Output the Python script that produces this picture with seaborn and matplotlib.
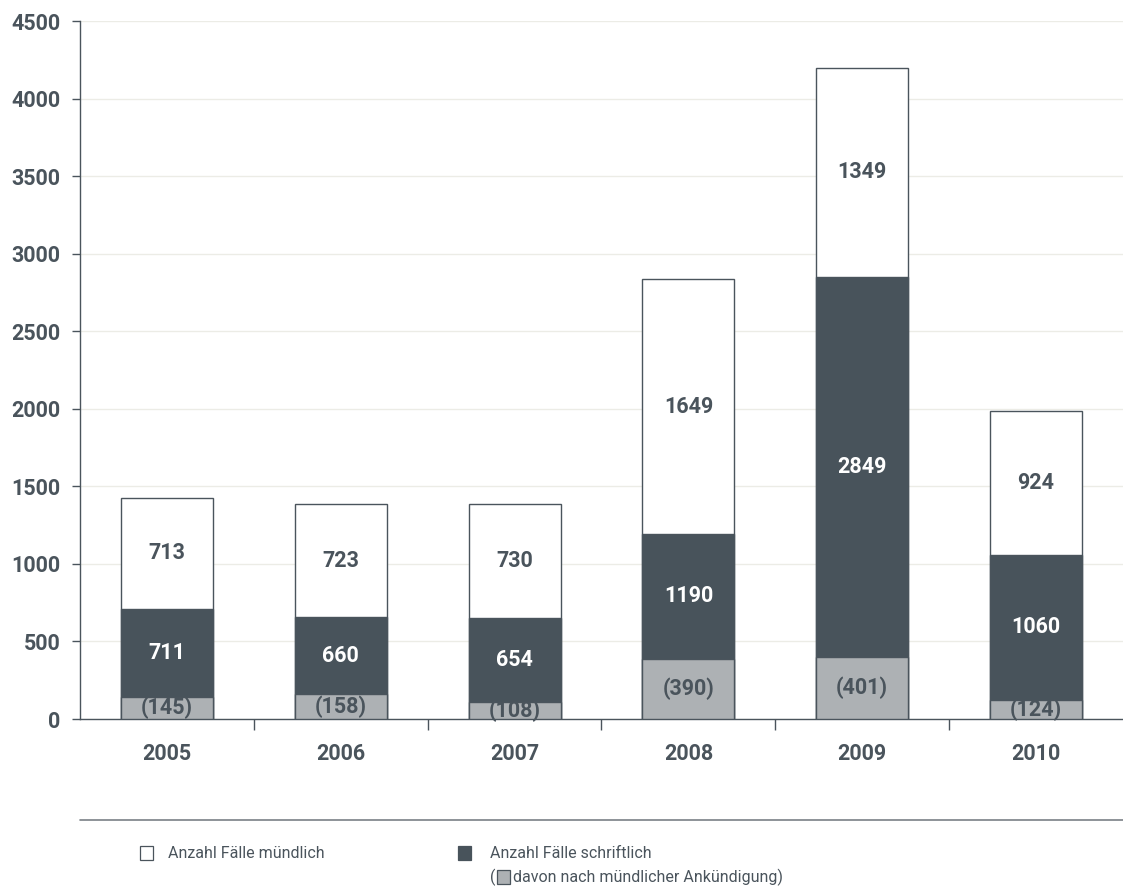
import matplotlib
matplotlib.use("Agg")
import matplotlib.pyplot as plt
import seaborn as sns
import pandas as pd
import numpy as np
from matplotlib.patches import Rectangle

years = ["2005", "2006", "2007", "2008", "2009", "2010"]
muendlich = [713, 723, 730, 1649, 1349, 924]
schriftlich = [711, 660, 654, 1190, 2849, 1060]
davon = [145, 158, 108, 390, 401, 124]
yticks = [0, 500, 1000, 1500, 2000, 2500, 3000, 3500, 4000, 4500]

TXT = "#4a545c"
DARK = "#48535b"
GRAY = "#adb1b4"
GRID = "#ecece6"

sns.set_theme(style="white")
plt.rcParams["font.family"] = ["Roboto", "DejaVu Sans"]

totals = [m + s for m, s in zip(muendlich, schriftlich)]
df = pd.DataFrame({"year": years, "total": totals, "schriftlich": schriftlich, "davon": davon})

fig = plt.figure(figsize=(11.23, 8.90), dpi=100)
ax = fig.add_axes([80 / 1123, 171 / 890, 1 - 80 / 1123, 698 / 890])

W = 0.53
FS = 15.5
sns.barplot(data=df, x="year", y="total", color="white", edgecolor=TXT, linewidth=1.0, width=W, ax=ax, zorder=3)
sns.barplot(data=df, x="year", y="schriftlich", color=DARK, edgecolor=TXT, linewidth=1.0, width=W, ax=ax, zorder=4, saturation=1)
sns.barplot(data=df, x="year", y="davon", color=GRAY, edgecolor=TXT, linewidth=1.0, width=W, ax=ax, zorder=5, saturation=1)

for i in range(len(years)):
    ax.text(i, (schriftlich[i] + totals[i]) / 2, str(muendlich[i]), ha="center", va="center",
            fontsize=FS, fontweight="bold", color=TXT, zorder=6)
    ax.text(i, (davon[i] + schriftlich[i]) / 2, str(schriftlich[i]), ha="center", va="center",
            fontsize=FS, fontweight="bold", color="white", zorder=6)
    ax.text(i, davon[i] / 2, f"({davon[i]})", ha="center", va="center",
            fontsize=FS, fontweight="bold", color=TXT, zorder=6)

ax.set_ylim(0, 4500)
ax.set_xlim(-0.5, 5.5)
ax.set_yticks(yticks)
ax.set_yticklabels([str(v) for v in yticks], fontsize=FS, fontweight="bold", color=TXT)
ax.yaxis.grid(True, color=GRID, linewidth=1.0, zorder=0)
ax.set_axisbelow(True)
ax.set_xlabel("")
ax.set_ylabel("")
ax.set_xticks(range(len(years)))
ax.set_xticklabels(years, fontsize=FS, fontweight="bold", color=TXT)
ax.set_xticks(np.arange(0.5, 5.5, 1.0), minor=True)
ax.tick_params(axis="x", which="major", length=0, pad=17)
ax.tick_params(axis="x", which="minor", length=8, width=1, color=TXT, direction="out", bottom=True)
ax.tick_params(axis="y", length=6, width=1, color=TXT, direction="out", left=True, pad=8)
for s in ["top", "right"]:
    ax.spines[s].set_visible(False)
for s in ["left", "bottom"]:
    ax.spines[s].set_color(TXT)
    ax.spines[s].set_linewidth(1.0)

# legend area
fig.add_artist(plt.Line2D([80 / 1123, 1.0], [1 - 820 / 890, 1 - 820 / 890], color="#7a8086", linewidth=1.2))
fig.add_artist(Rectangle((140 / 1123, 1 - 860 / 890), 13 / 1123, 14 / 890, facecolor="white", edgecolor=TXT, linewidth=0.9, transform=fig.transFigure))
fig.text(168 / 1123, 1 - 853 / 890, "Anzahl Fälle mündlich", fontsize=11.5, color=TXT, va="center", ha="left")
fig.add_artist(Rectangle((458 / 1123, 1 - 860 / 890), 13 / 1123, 14 / 890, facecolor=DARK, edgecolor=DARK, linewidth=0.9, transform=fig.transFigure))
fig.text(490 / 1123, 1 - 853 / 890, "Anzahl Fälle schriftlich", fontsize=11.5, color=TXT, va="center", ha="left")
fig.text(490 / 1123, 1 - 877 / 890, "(", fontsize=11.5, color=TXT, va="center", ha="left")
fig.add_artist(Rectangle((497 / 1123, 1 - 884 / 890), 13 / 1123, 14 / 890, facecolor=GRAY, edgecolor=TXT, linewidth=0.9, transform=fig.transFigure))
fig.text(513 / 1123, 1 - 877 / 890, "davon nach mündlicher Ankündigung)", fontsize=11.5, color=TXT, va="center", ha="left")

fig.savefig("out.png", dpi=100)
